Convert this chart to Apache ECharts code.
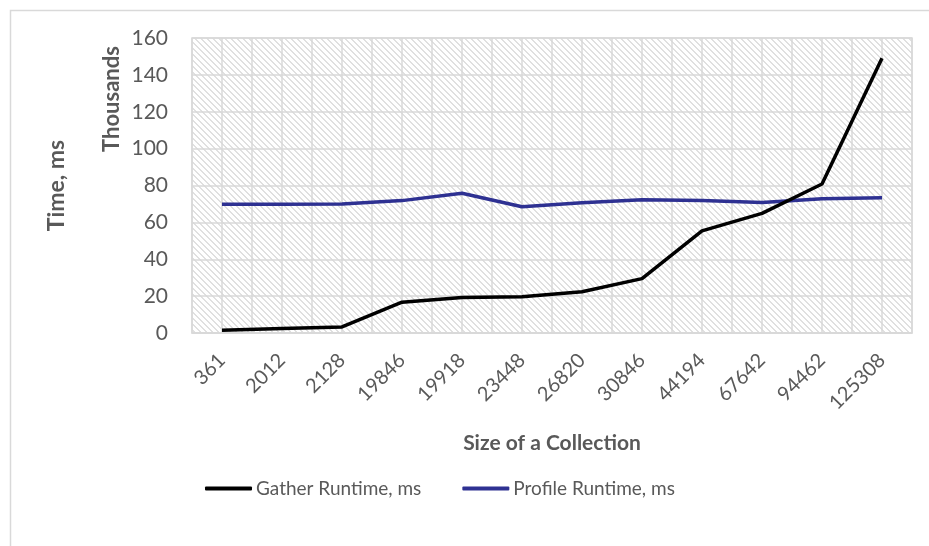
<!DOCTYPE html>
<html>
<head>
<meta charset="utf-8">
<script src="https://cdn.jsdelivr.net/npm/echarts@6/dist/echarts.min.js"></script>
<style>
  html, body { margin: 0; padding: 0; background: #fff; }
  #chart { width: 929px; height: 546px; }
</style>
</head>
<body>
<div id="chart"></div>
<script>
// Collection sizes (x categories)
const sizes = ['361', '2012', '2128', '19846', '19918', '23448', '26820', '30846', '44194', '67642', '94462', '125308'];
// Runtimes in milliseconds
const gatherRuntime = [1500, 2500, 3300, 16700, 19200, 19600, 22400, 29500, 55400, 64900, 80800, 149000];
const profileRuntime = [69800, 69800, 70000, 71800, 75800, 68500, 70600, 72300, 71900, 70800, 72800, 73300];
// Y axis (thousands of ms)
const yTicks = [0, 20, 40, 60, 80, 100, 120, 140, 160];

// Light downward-diagonal hatch for the plot background
function hatchPattern() {
  const n = 6;
  const c = document.createElement('canvas');
  c.width = n; c.height = n;
  const g = c.getContext('2d');
  g.fillStyle = '#ffffff';
  g.fillRect(0, 0, n, n);
  g.fillStyle = '#e0e0e0';
  for (let i = 0; i < n; i++) {
    g.fillRect(i, i, 1, 1);
    g.fillRect((i + 1) % n, i, 1, 1);
  }
  return c;
}

const font = 'Lato, "Open Sans", sans-serif';
const textGray = '#595959';
const gridGray = '#d9d9d9';

const chart = echarts.init(document.getElementById('chart'));
chart.setOption({
  animation: false,
  textStyle: { fontFamily: font },
  grid: {
    left: 192, right: 17, top: 38, bottom: 213,
    show: true,
    backgroundColor: { image: hatchPattern(), repeat: 'repeat' },
    borderColor: gridGray,
    borderWidth: 1.5
  },
  graphic: [
    {
      type: 'rect',
      left: 8, top: 8,
      shape: { width: 960, height: 600 },
      style: { fill: 'none', stroke: gridGray, lineWidth: 1.5 },
      silent: true,
      z: -1
    },
    {
      type: 'text',
      x: 112, y: 99,
      rotation: Math.PI / 2,
      style: {
        text: 'Thousands',
        font: 'bold 22px ' + font,
        fill: textGray,
        align: 'center',
        verticalAlign: 'middle'
      }
    }
  ],
  legend: {
    left: 205,
    top: 479,
    padding: 0,
    itemWidth: 47,
    itemHeight: 4,
    itemGap: 41,
    textStyle: { color: textGray, fontSize: 19, fontFamily: font, padding: [0, 0, 0, -1] },
    data: [
      { name: 'Gather Runtime, ms', icon: 'roundRect' },
      { name: 'Profile Runtime, ms', icon: 'roundRect' }
    ]
  },
  xAxis: [
    {
      type: 'category',
      data: sizes,
      boundaryGap: true,
      name: 'Size of a Collection',
      nameLocation: 'middle',
      nameGap: 100,
      nameTextStyle: { color: textGray, fontSize: 21, fontWeight: 'bold' },
      axisLine: { show: true, lineStyle: { color: gridGray, width: 1.5 } },
      axisTick: { show: false },
      axisLabel: { color: textGray, fontSize: 20, rotate: 45, interval: 0, margin: 24 },
      splitLine: { show: false }
    },
    {
      // half-category lines for the vertical grid
      type: 'value',
      min: 0, max: 24, interval: 1,
      position: 'bottom',
      axisLine: { show: false },
      axisTick: { show: false },
      axisLabel: { show: false },
      splitLine: { show: true, lineStyle: { color: gridGray, width: 1.5 } }
    }
  ],
  yAxis: {
    type: 'value',
    min: yTicks[0] * 1000,
    max: yTicks[yTicks.length - 1] * 1000,
    interval: 20000,
    name: 'Time, ms',
    nameLocation: 'middle',
    nameGap: 124,
    nameTextStyle: { color: textGray, fontSize: 23, fontWeight: 'bold' },
    axisLine: { show: false },
    axisTick: { show: false },
    axisLabel: { color: textGray, fontSize: 21, margin: 24, formatter: v => String(v / 1000) },
    splitLine: { show: true, lineStyle: { color: gridGray, width: 1.5 } }
  },
  series: [
    {
      name: 'Gather Runtime, ms',
      type: 'line',
      data: gatherRuntime,
      symbol: 'none',
      lineStyle: { color: '#000000', width: 3.5 },
      itemStyle: { color: '#000000' },
      z: 3
    },
    {
      name: 'Profile Runtime, ms',
      type: 'line',
      data: profileRuntime,
      symbol: 'none',
      lineStyle: { color: '#2e3192', width: 3.5 },
      itemStyle: { color: '#2e3192' },
      z: 2
    }
  ]
});
</script>
</body>
</html>
